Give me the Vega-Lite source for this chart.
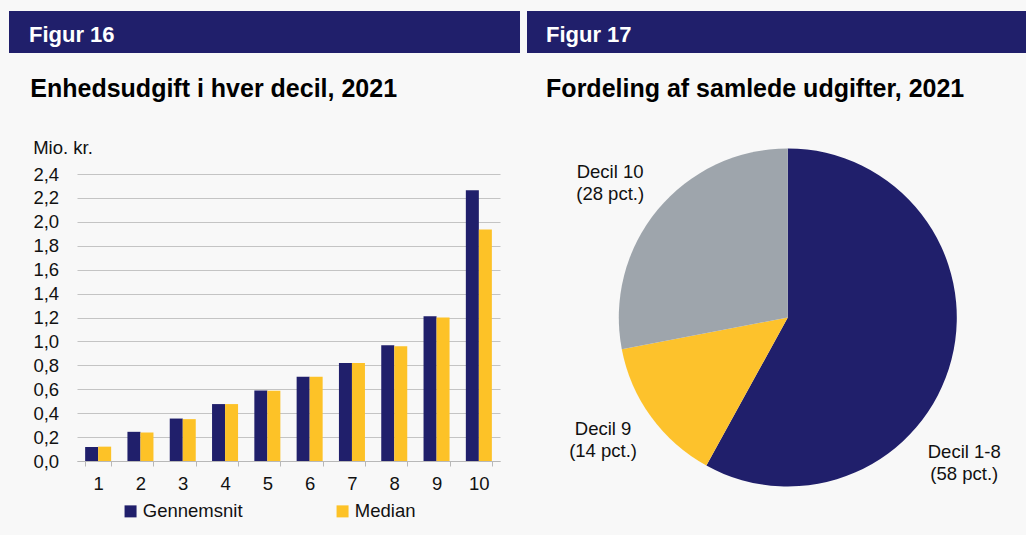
{
  "$schema": "https://vega.github.io/schema/vega-lite/v6.json",
  "padding": {"left": 9, "top": 11, "right": 0, "bottom": 0},
  "background": "#f8f8f8",
  "config": {"font": "Liberation Sans", "view": {"stroke": null}},
  "spacing": 23,
  "vconcat": [
    {
      "hconcat": [
        {
          "width": 511, "height": 42,
          "view": {"fill": "#201f6b", "stroke": null},
          "data": {"values": [{"fig": "Figur 16"}]},
          "mark": {"type": "text", "align": "left", "baseline": "alphabetic", "dx": -235.5, "dy": 9.7, "fontSize": 22, "fontWeight": "bold", "color": "#ffffff"},
          "encoding": {"text": {"field": "fig", "type": "nominal"}}
        },
        {
          "width": 499, "height": 42,
          "view": {"fill": "#201f6b", "stroke": null},
          "data": {"values": [{"fig": "Figur 17"}]},
          "mark": {"type": "text", "align": "left", "baseline": "alphabetic", "dx": -230.5, "dy": 9.7, "fontSize": 22, "fontWeight": "bold", "color": "#ffffff"},
          "encoding": {"text": {"field": "fig", "type": "nominal"}}
        }
      ],
      "spacing": 7,
      "bounds": "flush"
    },
    {
      "resolve": {"scale": {"color": "independent"}, "legend": {"color": "independent"}},
      "spacing": 45.5,
      "hconcat": [
        {
          "spacing": 0,
          "hconcat": [
            {
              "width": 8, "height": 287,
              "data": {"values": [{"fig": ""}]},
              "mark": {"type": "text"},
              "encoding": {"text": {"field": "fig", "type": "nominal"}}
            },
            {
              "width": 423, "height": 287,
              "title": {"text": "Enhedsudgift i hver decil, 2021", "anchor": "start", "frame": "group", "dx": -46.7, "offset": 16.9, "fontSize": 25, "fontWeight": "bold", "baseline": "alphabetic", "color": "#000000"},
              "data": {"values": [
                {"decil": 1, "serie": "Gennemsnit", "value": 0.117},
                {"decil": 1, "serie": "Median", "value": 0.12},
                {"decil": 2, "serie": "Gennemsnit", "value": 0.244},
                {"decil": 2, "serie": "Median", "value": 0.238},
                {"decil": 3, "serie": "Gennemsnit", "value": 0.355},
                {"decil": 3, "serie": "Median", "value": 0.35},
                {"decil": 4, "serie": "Gennemsnit", "value": 0.476},
                {"decil": 4, "serie": "Median", "value": 0.476},
                {"decil": 5, "serie": "Gennemsnit", "value": 0.59},
                {"decil": 5, "serie": "Median", "value": 0.588},
                {"decil": 6, "serie": "Gennemsnit", "value": 0.705},
                {"decil": 6, "serie": "Median", "value": 0.705},
                {"decil": 7, "serie": "Gennemsnit", "value": 0.82},
                {"decil": 7, "serie": "Median", "value": 0.82},
                {"decil": 8, "serie": "Gennemsnit", "value": 0.967},
                {"decil": 8, "serie": "Median", "value": 0.96},
                {"decil": 9, "serie": "Gennemsnit", "value": 1.21},
                {"decil": 9, "serie": "Median", "value": 1.2},
                {"decil": 10, "serie": "Gennemsnit", "value": 2.265},
                {"decil": 10, "serie": "Median", "value": 1.935}
              ]},
              "mark": {"type": "bar"},
              "encoding": {
                "x": {"field": "decil", "type": "ordinal",
                      "scale": {"paddingInner": 0.385, "paddingOuter": 0.1925},
                      "axis": {"title": null, "labelAngle": 0, "tickBand": "extent", "domainColor": "#b8b8b8", "tickColor": "#b8b8b8", "tickSize": 5, "labelFontSize": 18.5, "labelColor": "#111111", "labelPadding": 8, "grid": false}},
                "xOffset": {"field": "serie", "type": "nominal", "scale": {"domain": ["Gennemsnit", "Median"], "paddingInner": 0, "paddingOuter": 0}},
                "y": {"field": "value", "type": "quantitative",
                      "scale": {"domain": [0, 2.4], "nice": false},
                      "axis": {"values": [0, 0.2, 0.4, 0.6, 0.8, 1.0, 1.2, 1.4, 1.6, 1.8, 2.0, 2.2, 2.4],
                               "labelExpr": "replace(format(datum.value, '.1f'), '.', ',')",
                               "domain": false, "ticks": false, "tickSize": 0, "labelPadding": 18.4,
                               "labelFontSize": 18.5, "labelColor": "#111111",
                               "gridColor": "#c4c4c4", "gridWidth": 1,
                               "minExtent": 60, "maxExtent": 60,
                               "title": "Mio. kr.", "titleAngle": 0, "titleX": -44.3, "titleY": -20.6,
                               "titleAlign": "left", "titleBaseline": "alphabetic", "titleFontSize": 18.5,
                               "titleFontWeight": "normal", "titleColor": "#111111"}},
                "color": {"field": "serie", "type": "nominal",
                          "scale": {"domain": ["Gennemsnit", "Median"], "range": ["#201f6b", "#fdc227"]},
                          "legend": {"title": null, "orient": "none", "legendX": 112.3, "legendY": 328, "direction": "horizontal",
                                     "symbolType": "square", "symbolSize": 144, "symbolStrokeWidth": 0,
                                     "labelFontSize": 18.5, "labelColor": "#111111", "labelOffset": 3, "columnPadding": 90}}
              }
            }
          ]
        },
        {
          "width": 476.6, "height": 287,
          "title": {"text": "Fordeling af samlede udgifter, 2021", "anchor": "start", "frame": "group", "dx": -3.4, "offset": 26.8, "fontSize": 25, "fontWeight": "bold", "baseline": "alphabetic", "color": "#000000"},
          "data": {"values": [
            {"group": "Decil 1-8", "pct": 58, "ord": 1, "label": "Decil 1-8\n(58 pct.)"},
            {"group": "Decil 9", "pct": 14, "ord": 2, "label": "Decil 9\n(14 pct.)"},
            {"group": "Decil 10", "pct": 28, "ord": 3, "label": "Decil 10\n(28 pct.)"}
          ]},
          "encoding": {
            "theta": {"field": "pct", "type": "quantitative", "stack": true},
            "order": {"field": "ord", "type": "quantitative"}
          },
          "layer": [
            {
              "mark": {"type": "arc", "outerRadius": 169},
              "encoding": {"color": {"field": "group", "type": "nominal",
                           "scale": {"domain": ["Decil 1-8", "Decil 9", "Decil 10"], "range": ["#201f6b", "#fdc22c", "#9ea5ac"]},
                           "legend": null}}
            },
            {
              "mark": {"type": "text", "radius": 215, "dx": -31.8, "dy": 81, "fontSize": 18.5, "lineBreak": "\n", "lineHeight": 22, "align": "center", "baseline": "middle", "color": "#111111"},
              "encoding": {"text": {"field": "label", "type": "nominal", "condition": {"test": "datum.group !== 'Decil 1-8'", "value": ""}}}
            },
            {
              "mark": {"type": "text", "radius": 215, "dx": -10.8, "dy": -15, "fontSize": 18.5, "lineBreak": "\n", "lineHeight": 22, "align": "center", "baseline": "middle", "color": "#111111"},
              "encoding": {"text": {"field": "label", "type": "nominal", "condition": {"test": "datum.group !== 'Decil 9'", "value": ""}}}
            },
            {
              "mark": {"type": "text", "radius": 215, "dx": -12, "dy": -8.7, "fontSize": 18.5, "lineBreak": "\n", "lineHeight": 22, "align": "center", "baseline": "middle", "color": "#111111"},
              "encoding": {"text": {"field": "label", "type": "nominal", "condition": {"test": "datum.group !== 'Decil 10'", "value": ""}}}
            }
          ]
        }
      ]
    }
  ]
}
